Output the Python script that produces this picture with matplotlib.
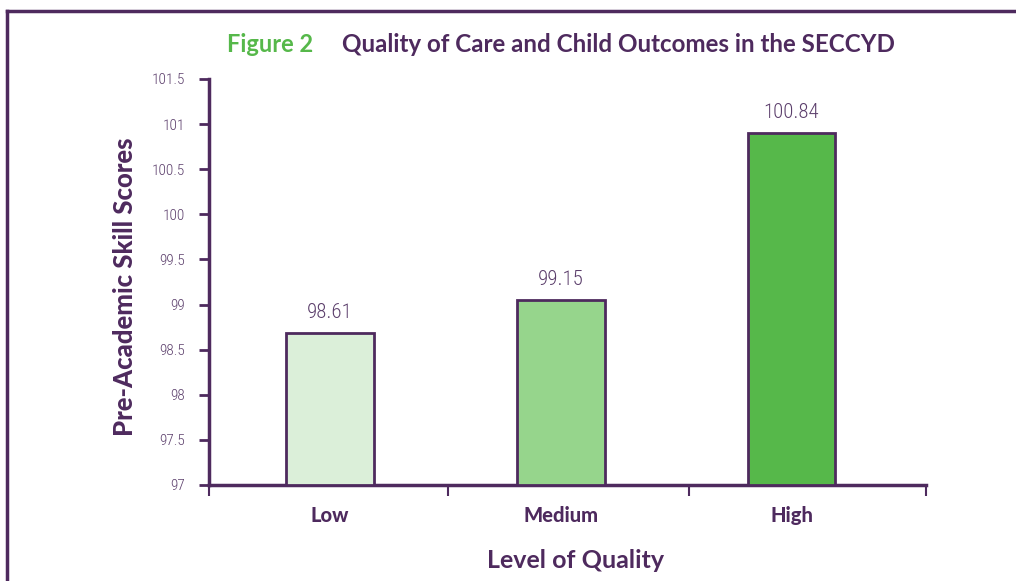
import matplotlib
matplotlib.use("Agg")
import matplotlib.pyplot as plt
from matplotlib.lines import Line2D

categories = ["Low", "Medium", "High"]
bar_heights = [98.68, 99.05, 100.90]
value_labels = ["98.61", "99.15", "100.84"]
y_ticks = [97, 97.5, 98, 98.5, 99, 99.5, 100, 100.5, 101, 101.5]
y_tick_labels = ["97", "97.5", "98", "98.5", "99", "99.5", "100", "100.5", "101", "101.5"]

PURPLE = "#4e2a5e"
TEXT_PURPLE = "#5c3f6c"
GREEN = "#56b84a"
fills = ["#dbefd9", "#96d58c", "#56b84a"]

NUM_FONT = "Roboto Condensed"
BOLD_FONT = "Lato"

fig = plt.figure(figsize=(10.16, 5.81), dpi=100)
ax = fig.add_axes([209 / 1016, 1 - 485 / 581, 717 / 1016, 406 / 581])

x = list(range(len(categories)))
ax.bar(x, [h - 97 for h in bar_heights], bottom=97, width=0.38,
       color=fills, edgecolor=PURPLE, linewidth=2, zorder=3)

for xi, h, lab in zip(x, bar_heights, value_labels):
    ax.annotate(lab, (xi, h), xytext=(0, 8), textcoords="offset points",
                ha="center", va="bottom", fontsize=15, color=TEXT_PURPLE,
                family=NUM_FONT, fontweight="light")

ax.set_ylim(97, 101.5)
ax.set_xlim(-0.524, 2.583)
ax.set_yticks(y_ticks)
ax.set_yticklabels(y_tick_labels, family=NUM_FONT, fontweight="light",
                   fontsize=11, color=TEXT_PURPLE)
ax.tick_params(axis="y", direction="out", length=7, width=2, color=PURPLE, pad=10)

# category labels under bars, tick marks at the category boundaries
ax.set_xticks(x)
ax.set_xticklabels(categories, fontsize=14.5, fontweight="black", color=PURPLE,
                   family=BOLD_FONT)
ax.tick_params(axis="x", length=0, pad=15)
ax.set_xticks([-0.524, 0.511, 1.556, 2.583], minor=True)
ax.tick_params(axis="x", which="minor", direction="out", length=8, width=1.5, color=PURPLE)

for s in ["top", "right"]:
    ax.spines[s].set_visible(False)
for s in ["left", "bottom"]:
    ax.spines[s].set_color(PURPLE)
    ax.spines[s].set_linewidth(2.5)

fig.text(125 / 1016, 1 - 287 / 581, "Pre-Academic Skill Scores", rotation=90,
         ha="center", va="center", fontsize=18.5, fontweight="black", color=PURPLE,
         family=BOLD_FONT)
fig.text(576 / 1016, 1 - 561 / 581, "Level of Quality", ha="center", va="center",
         fontsize=18, fontweight="bold", color=PURPLE, family=BOLD_FONT)

fig.text(227 / 1016, 1 - 45 / 581, "Figure 2", ha="left", va="center",
         fontsize=17, fontweight="bold", color=GREEN, family=BOLD_FONT)
fig.text(342 / 1016, 1 - 45 / 581, "Quality of Care and Child Outcomes in the SECCYD",
         ha="left", va="center", fontsize=17.4, fontweight="bold", color=PURPLE,
         family=BOLD_FONT)

# frame around the figure (left and top edges visible)
fig.add_artist(Line2D([7 / 1016, 7 / 1016], [0, 1 - 11 / 581], transform=fig.transFigure,
                      color=PURPLE, linewidth=2.5))
fig.add_artist(Line2D([7 / 1016, 1], [1 - 11 / 581, 1 - 11 / 581], transform=fig.transFigure,
                      color=PURPLE, linewidth=2.5))

fig.savefig("out.png", dpi=100)
